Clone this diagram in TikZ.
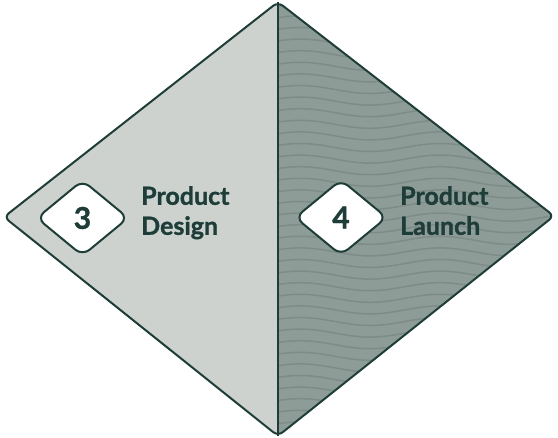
\documentclass[tikz,border=0pt]{standalone}
\usepackage{fontspec}
\setmainfont{Lato}[BoldFeatures={FakeBold=1.2}]
\usetikzlibrary{shapes.geometric}
\definecolor{lightfill}{HTML}{CDD2CF}
\definecolor{darkfill}{HTML}{8E9C97}
\definecolor{wavecol}{HTML}{7D8C87}
\definecolor{ink}{HTML}{1F3D38}
\tikzset{
  badge/.style={shape=diamond, draw=ink, line width=2pt, fill=white, rounded corners=9pt,
    minimum width=92pt, minimum height=76pt, aspect=1.3, inner sep=0pt,
    font=\bfseries\fontsize{30}{32}\selectfont, text=ink},
  label/.style={anchor=north west, inner sep=0pt, align=left, text=ink,
    font=\bfseries\fontsize{25}{30}\selectfont},
  wave/.style={draw=wavecol, line width=1.5pt},
}
\begin{document}
\begin{tikzpicture}[x=1pt,y=1pt]
\useasboundingbox (0,0) rectangle (558,438);
\coordinate (L) at (4,221);
\coordinate (T) at (278,436);
\coordinate (R) at (554,222);
\coordinate (B) at (278,2);
\begin{scope}
  \clip[rounded corners=6pt] (L) -- (T) -- (R) -- (B) -- cycle;
  \fill[lightfill] (0,0) rectangle (278,438);
  \fill[darkfill] (278,0) rectangle (558,438);
  \begin{scope}
    \clip (278,0) rectangle (558,438);
    \foreach \k in {0,...,38} {
      \draw[wave] plot[domain=276:560, samples=90, smooth]
        (\x, {0.5 + 11.6*\k + 4*cos(2.5714*(\x-300))});
    }
  \end{scope}
\end{scope}
\draw[ink, line width=2pt] (T) -- (B);
\draw[ink, line width=2pt, rounded corners=6pt] (L) -- (T) -- (R) -- (B) -- cycle;
\node[badge] (b3) at (82.5,220) {3};
\node[badge] (b4) at (341,220.5) {4};
\node[label] (t3) at (141,252) {Product\\Design};
\node[label] (t4) at (400,252) {Product\\Launch};
\end{tikzpicture}
\end{document}
